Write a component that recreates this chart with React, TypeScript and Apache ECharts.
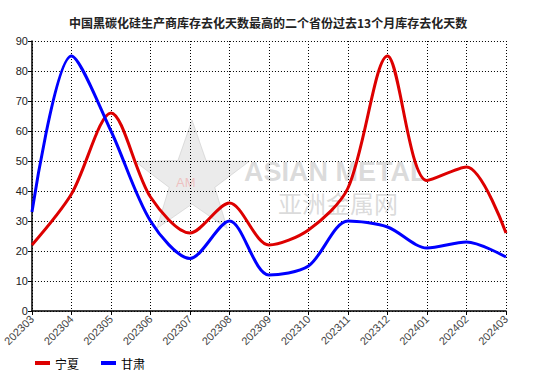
import React, { useEffect, useRef } from "react";
import * as echarts from "echarts";

const categories = ["202303","202304","202305","202306","202307","202308","202309","202310","202311","202312","202401","202402","202403"];
const ningxia = [22, 39, 66, 38, 26, 36, 22, 27, 41, 85, 43.5, 48, 26];
const gansu = [33, 85, 60, 30, 17.5, 30, 12, 15, 30, 28, 21, 23, 18];
const yTicks = { min: 0, max: 90, interval: 10 };

function starPoints(cx: number, cy: number, R: number, r: number): number[][] {
  const pts: number[][] = [];
  for (let i = 0; i < 10; i++) {
    const a = -Math.PI / 2 + (i * Math.PI) / 5;
    const rad = i % 2 === 0 ? R : r;
    pts.push([cx + rad * Math.cos(a), cy + rad * Math.sin(a)]);
  }
  return pts;
}

export default function App() {
  const ref = useRef<HTMLDivElement>(null);
  useEffect(() => {
    const chart = echarts.init(ref.current!, null, { renderer: "svg" });
    chart.setOption({
      animation: false,
      backgroundColor: "#fff",
      title: {
        text: "中国黑碳化硅生产商库存去化天数最高的二个省份过去13个月库存去化天数",
        left: 64,
        top: 11,
        textStyle: { fontSize: 12, fontWeight: "bold", color: "#222", fontFamily: "Noto Sans CJK SC" },
      },
      graphic: [
        {
          type: "polygon",
          shape: { points: starPoints(192, 180, 60, 24) },
          style: { fill: "rgba(205,205,205,0.4)", stroke: "rgba(195,195,195,0.5)" },
          z: 0,
        },
        {
          type: "text",
          x: 176, y: 176,
          style: { text: "AM", fontSize: 13, fill: "rgba(240,150,150,0.5)", fontFamily: "Liberation Sans", verticalAlign: "top" },
          z: 0,
        },
        {
          type: "text",
          x: 244, y: 158,
          style: { text: "ASIAN METAL", fontSize: 27, fontWeight: "bold", fill: "rgba(195,195,195,0.6)", fontFamily: "Liberation Sans", verticalAlign: "top" },
          z: 0,
        },
        {
          type: "text",
          x: 278, y: 190,
          style: { text: "亚洲金属网", fontSize: 24, fill: "rgba(195,195,195,0.6)", fontFamily: "Noto Sans CJK SC", verticalAlign: "top" },
          z: 0,
        },
      ],
      legend: {
        left: 30,
        top: 352,
        itemWidth: 15,
        itemHeight: 4,
        itemGap: 22,
        icon: "rect",
        textStyle: { fontSize: 12, color: "#000", fontFamily: "Noto Sans CJK SC" },
        data: ["宁夏", "甘肃"],
      },
      grid: { left: 27, right: 49, top: 41, bottom: 65, containLabel: false },
      xAxis: {
        type: "category",
        data: categories,
        boundaryGap: false,
        axisLine: { lineStyle: { color: "#000", width: 1.5 } },
        axisTick: { show: true, alignWithLabel: true, length: 4, lineStyle: { color: "#000" } },
        axisLabel: { rotate: 45, interval: 0, fontSize: 11, color: "#444", fontFamily: "Liberation Sans", margin: 6 },
        splitLine: { show: true, lineStyle: { color: "#000", type: [1, 2], width: 1 } },
      },
      yAxis: {
        type: "value",
        min: yTicks.min,
        max: yTicks.max,
        interval: yTicks.interval,
        axisLine: { show: true, lineStyle: { color: "#000", width: 1.5 } },
        axisTick: { show: true, length: 4, lineStyle: { color: "#000" } },
        axisLabel: { fontSize: 11, color: "#222", fontFamily: "Liberation Sans", margin: 4 },
        splitLine: { show: true, lineStyle: { color: "#000", type: [1, 2], width: 1 } },
      },
      series: [
        {
          name: "宁夏",
          type: "line",
          data: ningxia,
          smooth: 0.3,
          symbol: "none",
          lineStyle: { color: "#DD0000", width: 3 },
          itemStyle: { color: "#DD0000" },
          z: 3,
        },
        {
          name: "甘肃",
          type: "line",
          data: gansu,
          smooth: 0.3,
          symbol: "none",
          lineStyle: { color: "#0000FF", width: 3 },
          itemStyle: { color: "#0000FF" },
          z: 3,
        },
      ],
    });
    return () => chart.dispose();
  }, []);
  return <div ref={ref} style={{ width: 555, height: 376, position: "absolute", left: 0, top: 0 }} />;
}
